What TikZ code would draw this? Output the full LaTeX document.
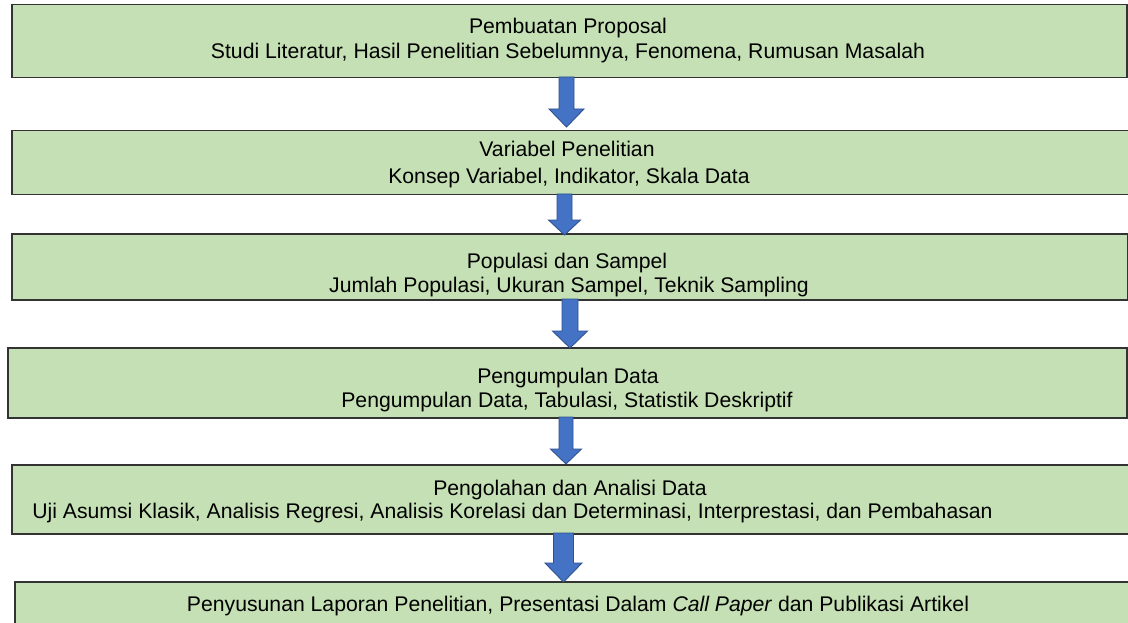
\documentclass[tikz,border=0pt]{standalone}
\usepackage{fontspec}
\setmainfont{Liberation Sans}
\usetikzlibrary{calc}
\definecolor{stepfill}{HTML}{C5E0B4}
\definecolor{stepline}{HTML}{333333}
\definecolor{arrowfill}{HTML}{4472C4}
\definecolor{arrowline}{HTML}{2F528F}
\tikzset{
  stepbox/.style={draw=stepline, fill=stepfill, line width=1.5pt, inner sep=0pt},
  steptext/.style={anchor=base, inner sep=0pt, font=\fontsize{21.2}{25}\selectfont, text=black},
  blockarrow/.style={fill=arrowfill, draw=arrowline, line width=0.9pt, line join=miter}
}
% block arrow: centre x, shaft half width, head half width, top y, head start y, tip y, name of tip
\newcommand\downblock[7]{%
  \draw[blockarrow] (#1-#2,#4) -- (#1+#2,#4) -- (#1+#2,#5) -- (#1+#3,#5)
    -- (#1,#6) -- (#1-#3,#5) -- (#1-#2,#5) -- cycle;
  \coordinate (#7) at (#1,#6);}
\begin{document}
\begin{tikzpicture}[x=1pt,y=-1pt]
\useasboundingbox[fill=white] (0,0) rectangle (1128,623);

% step boxes
\node[stepbox, minimum width=1115pt, minimum height=73pt, anchor=north west] (b1) at (11,4) {};
\node[stepbox, minimum width=1125pt, minimum height=64pt, anchor=north west] (b2) at (11,130) {};
\node[stepbox, minimum width=1116pt, minimum height=66pt, anchor=north west] (b3) at (11,233) {};
\node[stepbox, minimum width=1119pt, minimum height=70pt, anchor=north west] (b4) at (7,347) {};
\node[stepbox, minimum width=1125pt, minimum height=69pt, anchor=north west] (b5) at (11,464) {};
\node[stepbox, minimum width=1125pt, minimum height=60pt, anchor=north west] (b6) at (14,581) {};

% texts, kept inside their boxes
\begin{scope}
  \clip (b1.north west) rectangle (b1.south east);
  \node[steptext] (t1a) at (568,34) {Pembuatan Proposal};
  \node[steptext] (t1b) at (568,59) {Studi Literatur, Hasil Penelitian Sebelumnya, Fenomena, Rumusan Masalah};
\end{scope}
\begin{scope}
  \clip (b2.north west) rectangle (b2.south east);
  \node[steptext] (t2a) at (567,157) {Variabel Penelitian};
  \node[steptext] (t2b) at (569,183) {Konsep Variabel, Indikator, Skala Data};
\end{scope}
\begin{scope}
  \clip (b3.north west) rectangle (b3.south east);
  \node[steptext] (t3a) at (567,269) {Populasi dan Sampel};
  \node[steptext] (t3b) at (569,292) {Jumlah Populasi, Ukuran Sampel, Teknik Sampling};
\end{scope}
\begin{scope}
  \clip (b4.north west) rectangle (b4.south east);
  \node[steptext] (t4a) at (568,383) {Pengumpulan Data};
  \node[steptext] (t4b) at (567,407) {Pengumpulan Data, Tabulasi, Statistik Deskriptif};
\end{scope}
\begin{scope}
  \clip (b5.north west) rectangle (b5.south east);
  \node[steptext] (t5a) at (570,495) {Pengolahan dan Analisi Data};
  \node[steptext] (t5b) at (512.5,518) {Uji Asumsi Klasik, Analisis Regresi, Analisis Korelasi dan Determinasi, Interprestasi, dan Pembahasan};
\end{scope}
\begin{scope}
  \clip (b6.north west) rectangle (b6.south east);
  \node[steptext] (t6a) at (578,611) {Penyusunan Laporan Penelitian, Presentasi Dalam \textit{Call Paper} dan Publikasi Artikel};
\end{scope}

% block arrows between the steps
\downblock{566.5}{7.5}{17.5}{77}{109}{127}{a1}
\downblock{564.5}{7.5}{16}{194}{220}{235}{a2}
\downblock{570}{8}{17.5}{299}{331}{348}{a3}
\downblock{566}{7}{15.5}{417}{449}{464}{a4}
\downblock{563.5}{10}{18.5}{533}{563}{582}{a5}
\end{tikzpicture}
\end{document}
